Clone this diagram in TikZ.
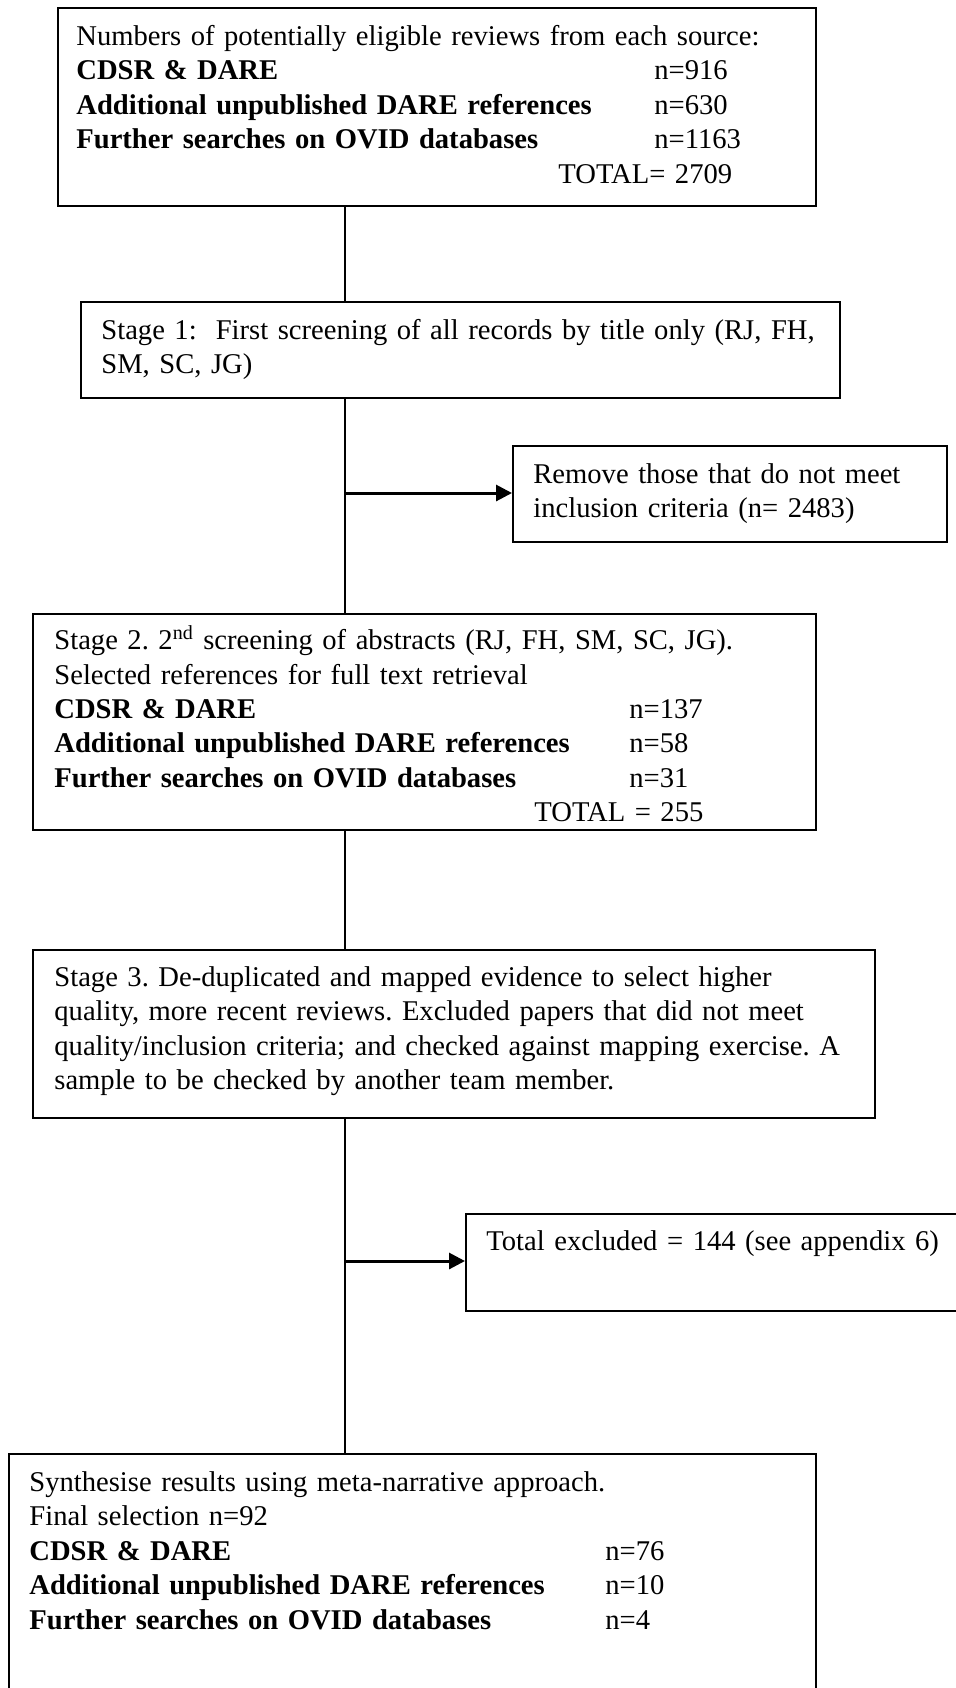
\documentclass[tikz,border=0pt]{standalone}
\usepackage{fontspec}
\setmainfont{Liberation Serif}
\usetikzlibrary{arrows.meta}
\newcommand{\srcrow}[3]{\makebox[#1][l]{\textbf{#2}}#3}
\frenchspacing
\begin{document}
\begin{tikzpicture}[x=0.5pt, y=-0.5pt, every node/.style={font={\fontsize{14.3}{17.2}\selectfont}}, box/.style={draw, line width=1pt, rectangle, inner sep=0pt, anchor=north west}, txt/.style={anchor=north west, inner sep=0pt, text width=#1, align=left}, link/.style={line width=1pt}, arr/.style={line width=1.5pt, -{Triangle[length=8pt,width=8pt]}}]
\useasboundingbox (0,0) rectangle (956,1688);
\coordinate (spine) at (345,0);
% boxes
\node[box, minimum width=379pt, minimum height=99pt] (b1) at (57,7) {};
\node[box, minimum width=379.5pt, minimum height=48pt] (b2) at (80,301) {};
\node[box, minimum width=217pt, minimum height=48pt] (b3) at (512,445) {};
\node[box, minimum width=391.5pt, minimum height=108pt] (b4) at (32,613) {};
\node[box, minimum width=421pt, minimum height=84pt] (b5) at (32,949) {};
\node[box, minimum width=257.5pt, minimum height=48.5pt] (b6) at (465,1213) {};
\node[box, minimum width=403.5pt, minimum height=128.5pt] (b7) at (8,1453) {};
% texts
\node[txt=380pt] (t1) at (76,21) {\strut Numbers of potentially eligible reviews from each source:\\
 \srcrow{289pt}{CDSR \& DARE}{n=916}\\
 \srcrow{289pt}{Additional unpublished DARE references}{n=630}\\
 \srcrow{289pt}{Further searches on OVID databases}{n=1163}\\
 \hspace*{241pt}TOTAL= 2709};
\node[txt=375pt] (t2) at (101,315) {\strut Stage 1:\ \ First screening of all records by title only (RJ, FH,\\ SM, SC, JG)};
\node[txt=210pt] (t3) at (533,459) {\strut Remove those that do not meet\\ inclusion criteria (n= 2483)};
\node[txt=385pt] (t4) at (54,625) {\strut Stage 2. 2\textsuperscript{nd} screening of abstracts (RJ, FH, SM, SC, JG).\\
 Selected references for full text retrieval\\
 \srcrow{287.5pt}{CDSR \& DARE}{n=137}\\
 \srcrow{287.5pt}{Additional unpublished DARE references}{n=58}\\
 \srcrow{287.5pt}{Further searches on OVID databases}{n=31}\\
 \hspace*{240pt}TOTAL = 255};
\node[txt=415pt] (t5) at (54,962) {\strut Stage 3. De-duplicated and mapped evidence to select higher\\
 quality, more recent reviews. Excluded papers that did not meet\\
 quality/inclusion criteria; and checked against mapping exercise. A\\
 sample to be checked by another team member.};
\node[txt=250pt] (t6) at (486,1226) {\strut Total excluded = 144 (see appendix 6)};
\node[txt=395pt] (t7) at (29,1467) {\strut Synthesise results using meta-narrative approach.\\
 Final selection n=92\\
 \srcrow{288pt}{CDSR \& DARE}{n=76}\\
 \srcrow{288pt}{Additional unpublished DARE references}{n=10}\\
 \srcrow{288pt}{Further searches on OVID databases}{n=4}};
% spine
\draw[link] (b1.south -| spine) -- (b2.north -| spine);
\draw[link] (b2.south -| spine) -- (b4.north -| spine);
\draw[link] (b4.south -| spine) -- (b5.north -| spine);
\draw[link] (b5.south -| spine) -- (b7.north -| spine);
% exclusions
\coordinate (j1) at (345,493); \coordinate (j2) at (345,1261);
\draw[arr] (j1) -- (j1 -| b3.west);
\draw[arr] (j2) -- (j2 -| b6.west);
\end{tikzpicture}
\end{document}
